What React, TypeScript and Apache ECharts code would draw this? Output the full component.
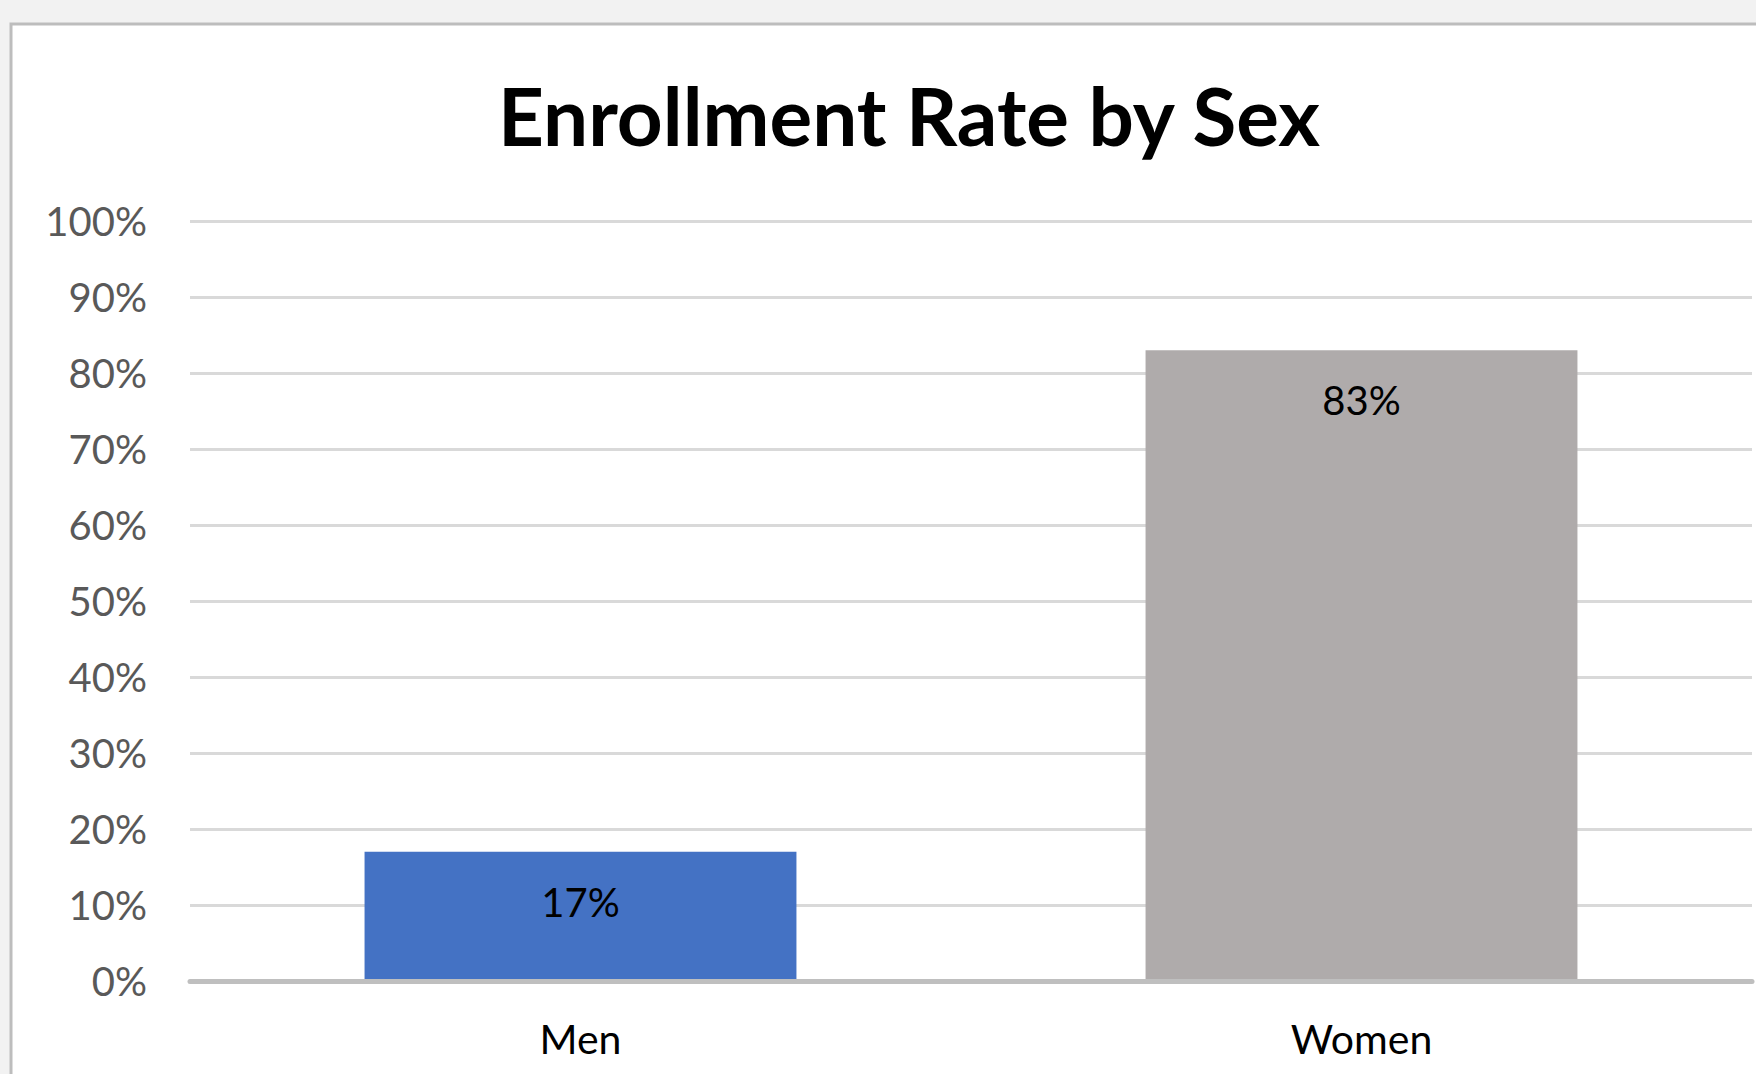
import React, { useEffect, useRef } from "react";
import * as echarts from "echarts";

const categories = ["Men", "Women"];
const enrollmentRate = [17, 83];
const barColors = ["#4472C4", "#AFABAB"];
const yTicks = { min: 0, max: 100, interval: 10 };
const titleText = "Enrollment Rate by Sex";

export default function App() {
  const ref = useRef<HTMLDivElement>(null);
  useEffect(() => {
    document.body.style.margin = "0";
    const chart = echarts.init(ref.current!, null, { renderer: "svg" });
    chart.setOption({
      animation: false,
      backgroundColor: "#f2f2f2",
      graphic: [
        {
          type: "rect",
          z: -10,
          shape: { x: 11, y: 24, width: 1800, height: 1100 },
          style: { fill: "#ffffff", stroke: "#bdbdbd", lineWidth: 3 },
        },
      ],
      title: {
        text: titleText,
        left: 904,
        textAlign: "center",
        top: 70,
        textStyle: {
          fontFamily: "Lato",
          fontWeight: "bold",
          fontSize: 80,
          color: "#000000",
        },
      },
      grid: { left: 190, right: 4, top: 221, bottom: 93 },
      xAxis: {
        type: "category",
        data: categories,
        z: 5,
        axisTick: { show: false },
        axisLine: { lineStyle: { color: "#bfbfbf", width: 5 } },
        axisLabel: {
          margin: 37,
          fontFamily: "Lato",
          fontSize: 41,
          color: "#000000",
        },
      },
      yAxis: {
        type: "value",
        min: yTicks.min,
        max: yTicks.max,
        interval: yTicks.interval,
        axisLine: { show: false },
        axisTick: { show: false },
        splitLine: { lineStyle: { color: "#d9d9d9", width: 3 } },
        axisLabel: {
          formatter: "{value}%",
          margin: 43,
          fontFamily: "Lato",
          fontSize: 40,
          color: "#595959",
        },
      },
      series: [
        {
          type: "bar",
          data: enrollmentRate.map((v, i) => ({
            value: v,
            itemStyle: { color: barColors[i] },
          })),
          barWidth: "55.3%",
          label: {
            show: true,
            position: "insideTop",
            distance: 30,
            formatter: "{c}%",
            fontFamily: "Lato",
            fontSize: 40,
            color: "#000000",
          },
        },
      ],
    });
    return () => chart.dispose();
  }, []);
  return (
    <div
      ref={ref}
      style={{ position: "absolute", left: 0, top: 0, width: 1756, height: 1074 }}
    />
  );
}
